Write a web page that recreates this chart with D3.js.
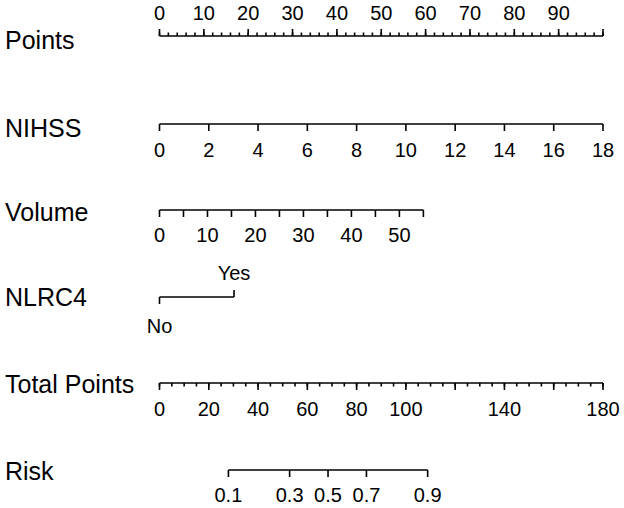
<!DOCTYPE html>
<html lang="en">
    <head>
        <meta charset="utf-8">
        <title>Nomogram</title>
        <script type="text/javascript" src="https://cdn.jsdelivr.net/npm/d3@7"></script>
        <style>
            body { margin: 0; background: #fff; }
            text { font-family: "Liberation Sans", Arial, sans-serif; fill: #000; }
        </style>
    </head>
    <body>
        <script type="text/javascript">

            //Width and height
            var w = 624;
            var h = 508;

            //Data
            var pointsTicks = [0, 2, 4, 6, 8, 10, 12, 14, 16, 18, 20, 22, 24, 26, 28, 30, 32, 34, 36, 38, 40,
                               42, 44, 46, 48, 50, 52, 54, 56, 58, 60, 62, 64, 66, 68, 70, 72, 74, 76, 78, 80,
                               82, 84, 86, 88, 90, 92, 94, 96, 98, 100];
            var pointsMajor = [0, 10, 20, 30, 40, 50, 60, 70, 80, 90, 100];
            var pointsLabels = [0, 10, 20, 30, 40, 50, 60, 70, 80, 90];

            var nihssTicks = [0, 2, 4, 6, 8, 10, 12, 14, 16, 18];
            var nihssMax = 18;            // NIHSS 18 -> 100 points

            var volumeTicks = [0, 5, 10, 15, 20, 25, 30, 35, 40, 45, 50, 55];
            var volumeLabels = [0, 10, 20, 30, 40, 50];
            var volumeMaxPoints = 59.5;   // Volume 55 -> 59.5 points

            var nlrc4Levels = ["No", "Yes"];
            var nlrc4Points = [0, 16.8];

            var totalTicks = [0, 5, 10, 15, 20, 25, 30, 35, 40, 45, 50, 55, 60, 65, 70, 75, 80, 85, 90, 95,
                              100, 105, 110, 115, 120, 125, 130, 135, 140, 145, 150, 155, 160, 165, 170, 175, 180];
            var totalMajor = [0, 20, 40, 60, 80, 100, 120, 140, 160, 180];
            var totalLabels = [0, 20, 40, 60, 80, 100, 140, 180];

            var riskTicks = [0.1, 0.3, 0.5, 0.7, 0.9];
            var riskCenter = 68.4;        // total points at risk 0.5
            var riskSlope = 18.4;         // total points per logit unit

            //Scales
            var xPoints = d3.scaleLinear().domain([0, 100]).range([159.5, 603]);
            var xTotal = d3.scaleLinear().domain([0, 180]).range([159.5, 603]);
            var xNihss = function (v) { return xPoints(v / nihssMax * 100); };
            var xVolume = function (v) { return xPoints(v / 55 * volumeMaxPoints); };
            var xRisk = function (p) { return xTotal(riskCenter + riskSlope * Math.log(p / (1 - p))); };

            var svg = d3.select("body")
                    .append("svg")
                    .attr("width", w)
                    .attr("height", h);

            var titleSize = "25px";
            var tickSize = "20px";

            function title(label, y) {
                svg.append("text")
                        .attr("x", 5)
                        .attr("y", y)
                        .attr("dominant-baseline", "central")
                        .attr("font-size", titleSize)
                        .text(label);
            }

            function hline(x1, x2, y) {
                svg.append("line")
                        .attr("x1", x1).attr("x2", x2)
                        .attr("y1", y).attr("y2", y)
                        .attr("stroke", "#000")
                        .attr("stroke-width", 1.6);
            }

            function ticks(values, xf, y, len, cls) {
                svg.selectAll("line." + cls)
                        .data(values)
                        .enter()
                        .append("line")
                        .attr("class", cls)
                        .attr("x1", function (d) { return xf(d); })
                        .attr("x2", function (d) { return xf(d); })
                        .attr("y1", y)
                        .attr("y2", y + len)
                        .attr("stroke", "#000")
                        .attr("stroke-width", 1.6);
            }

            function labels(values, xf, y, cls, fmt) {
                svg.selectAll("text." + cls)
                        .data(values)
                        .enter()
                        .append("text")
                        .attr("class", cls)
                        .attr("x", function (d) { return xf(d); })
                        .attr("y", y)
                        .attr("text-anchor", "middle")
                        .attr("font-size", tickSize)
                        .text(function (d) { return fmt ? fmt(d) : d; });
            }

            //Points
            title("Points", 40);
            hline(xPoints(0), xPoints(100), 36);
            ticks(pointsTicks, xPoints, 36, -3.5, "pmin");
            ticks(pointsMajor, xPoints, 36, -7, "pmaj");
            labels(pointsLabels, xPoints, 20, "plab");

            //NIHSS
            title("NIHSS", 128);
            hline(xNihss(0), xNihss(18), 124);
            ticks(nihssTicks, xNihss, 124, 7, "nt");
            labels(nihssTicks, xNihss, 157, "nl");

            //Volume
            title("Volume", 212);
            hline(xVolume(0), xVolume(55), 210);
            ticks(volumeTicks, xVolume, 210, 7, "vt");
            labels(volumeLabels, xVolume, 242, "vl");

            //NLRC4
            title("NLRC4", 297);
            var xNl = function (i) { return xPoints(nlrc4Points[i]); };
            hline(xNl(0), xNl(1), 297);
            ticks([0], xNl, 297, 7, "nlno");
            ticks([1], xNl, 297, -7, "nlyes");
            svg.append("text")
                    .attr("x", xNl(0)).attr("y", 333)
                    .attr("text-anchor", "middle")
                    .attr("font-size", tickSize)
                    .text(nlrc4Levels[0]);
            svg.append("text")
                    .attr("x", xNl(1)).attr("y", 280)
                    .attr("text-anchor", "middle")
                    .attr("font-size", tickSize)
                    .text(nlrc4Levels[1]);

            //Total Points
            title("Total Points", 384);
            hline(xTotal(0), xTotal(180), 383);
            ticks(totalTicks, xTotal, 383, 3.5, "tmin");
            ticks(totalMajor, xTotal, 383, 7, "tmaj");
            labels(totalLabels, xTotal, 416, "tl");

            //Risk
            title("Risk", 471);
            hline(xRisk(0.1), xRisk(0.9), 470);
            ticks(riskTicks, xRisk, 470, 7, "rt");
            labels(riskTicks, xRisk, 502, "rl", d3.format(".1f"));

        </script>
    </body>
</html>
